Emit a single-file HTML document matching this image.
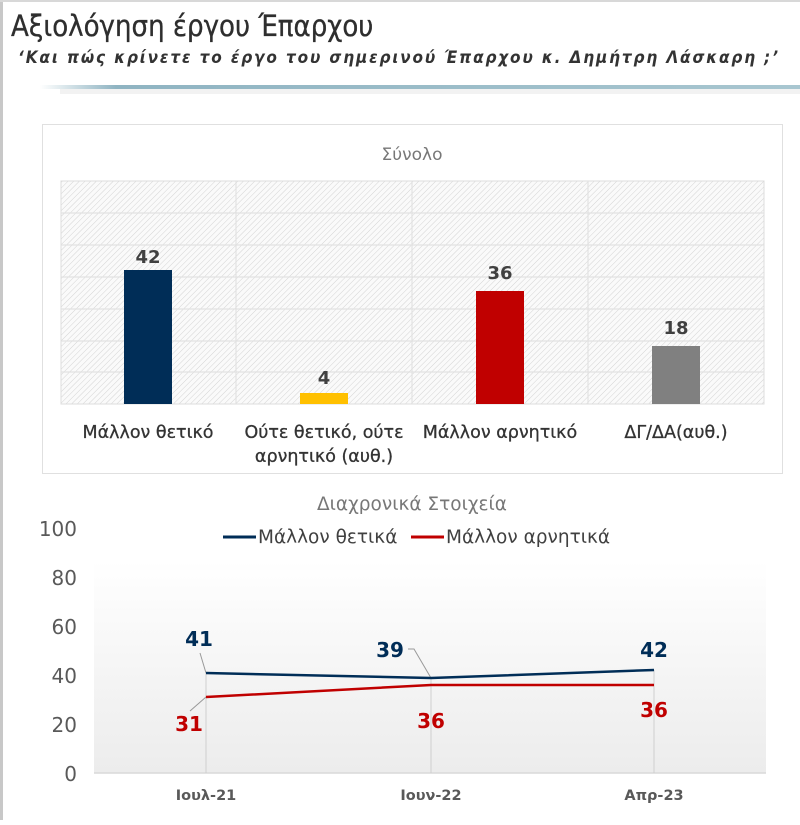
<!DOCTYPE html>
<html><head><meta charset="utf-8"><style>
body{margin:0;width:800px;height:820px;background:#fff;overflow:hidden;font-family:"Liberation Sans","DejaVu Sans",sans-serif;}
</style></head><body>
<svg width="800" height="820" xmlns="http://www.w3.org/2000/svg" font-family="'DejaVu Sans','Liberation Sans',sans-serif">
<defs>
<pattern id="h" width="4" height="4" patternUnits="userSpaceOnUse" patternTransform="rotate(45)">
<rect width="4" height="4" fill="#fafafa"/><line x1="0" y1="0" x2="0" y2="4" stroke="#d4d4d4" stroke-width="1"/></pattern>
<linearGradient id="bg" x1="0" y1="0" x2="0" y2="1"><stop offset="0" stop-color="#fff"/><stop offset="1" stop-color="#ececec"/></linearGradient>
<linearGradient id="ul" x1="0" y1="0" x2="1" y2="0"><stop offset="0" stop-color="#fff"/><stop offset="0.1" stop-color="#8fb4c2"/><stop offset="1" stop-color="#a8c6d0"/></linearGradient>
</defs>
<rect x="0" y="0" width="3" height="820" fill="#c8c8c8"/>
<rect x="0" y="0" width="800" height="2" fill="#d8d8d8"/>
<text x="11" y="36" font-size="29" fill="#2e2e2e" stroke="#2e2e2e" stroke-width="0.3" font-family="'DejaVu Sans Condensed','DejaVu Sans',sans-serif" style="font-stretch:condensed">Αξιολόγηση έργου Έπαρχου</text>
<text x="18" y="63" font-size="17" font-style="italic" font-weight="bold" fill="#333" textLength="760" lengthAdjust="spacing" font-family="'DejaVu Sans Condensed','DejaVu Sans',sans-serif">‘Και πώς κρίνετε το έργο του σημερινού Έπαρχου κ. Δημήτρη Λάσκαρη ;’</text>
<rect x="40" y="85" width="760" height="4" fill="url(#ul)"/>
<rect x="60" y="89" width="740" height="5" fill="#ececec" opacity="0.7"/>
<!-- bar box -->
<rect x="42.5" y="124.5" width="740" height="349" fill="#fff" stroke="#e0e0e0"/>
<text x="412" y="160" font-size="17" fill="#777" text-anchor="middle">Σύνολο</text>
<rect x="61" y="181" width="703" height="223" fill="url(#h)" stroke="#ddd"/>
<g stroke="#e2e2e2" stroke-width="1.2">
<line x1="61" y1="213" x2="764" y2="213"/><line x1="61" y1="245" x2="764" y2="245"/><line x1="61" y1="277" x2="764" y2="277"/><line x1="61" y1="309" x2="764" y2="309"/><line x1="61" y1="341" x2="764" y2="341"/><line x1="61" y1="372" x2="764" y2="372"/>
<line x1="236" y1="181" x2="236" y2="404"/><line x1="412" y1="181" x2="412" y2="404"/><line x1="588" y1="181" x2="588" y2="404"/>
</g>
<rect x="124" y="270" width="48" height="134" fill="#002d57"/>
<rect x="300" y="393" width="48" height="11" fill="#ffc000"/>
<rect x="476" y="291" width="48" height="113" fill="#c00000"/>
<rect x="652" y="346" width="48" height="58" fill="#808080"/>
<g font-size="18" font-weight="bold" fill="#404040" text-anchor="middle">
<text x="148" y="263">42</text><text x="324" y="384">4</text><text x="500" y="279">36</text><text x="676" y="334">18</text>
</g>
<g font-size="17.5" fill="#333" text-anchor="middle" stroke="#333" stroke-width="0.3">
<text x="148" y="438">Μάλλον θετικό</text>
<text x="324" y="438">Ούτε θετικό, ούτε</text><text x="324" y="462">αρνητικό (αυθ.)</text>
<text x="500" y="438">Μάλλον αρνητικό</text>
<text x="676" y="438">ΔΓ/ΔΑ(αυθ.)</text>
</g>
<!-- line chart -->
<text x="412" y="510" font-size="18.5" fill="#777" text-anchor="middle">Διαχρονικά Στοιχεία</text>
<line x1="223" y1="537" x2="256" y2="537" stroke="#002d57" stroke-width="3"/>
<text x="258" y="543" font-size="18.5" fill="#404040">Μάλλον θετικά</text>
<line x1="411" y1="537" x2="444" y2="537" stroke="#c00000" stroke-width="3"/>
<text x="446" y="543" font-size="18.5" fill="#404040">Μάλλον αρνητικά</text>
<rect x="94" y="560" width="672" height="213" fill="url(#bg)"/>
<line x1="94" y1="773" x2="766" y2="773" stroke="#d9d9d9" stroke-width="1.5"/>
<g font-size="20" fill="#595959" text-anchor="end">
<text x="77" y="536">100</text><text x="77" y="585">80</text><text x="77" y="634">60</text><text x="77" y="683">40</text><text x="77" y="732">20</text><text x="77" y="781">0</text>
</g>
<g stroke="#cfcfcf" stroke-width="1">
<line x1="206" y1="673" x2="206" y2="773"/><line x1="431" y1="678" x2="431" y2="773"/><line x1="654" y1="670" x2="654" y2="773"/>
</g>
<g stroke="#999" stroke-width="1" fill="none">
<polyline points="200,653 206,673"/><polyline points="190,711 206,697"/><polyline points="408,649 414,649 431,678"/>
</g>
<polyline points="206,697 431,685 654,685" fill="none" stroke="#c00000" stroke-width="2.5"/>
<polyline points="206,673 431,678 654,670" fill="none" stroke="#002d57" stroke-width="2.5"/>
<g font-size="20" font-weight="bold" text-anchor="middle">
<text x="199" y="646" fill="#002d57">41</text><text x="390" y="657" fill="#002d57">39</text><text x="654" y="657" fill="#002d57">42</text>
<text x="189" y="731" fill="#c00000">31</text><text x="431" y="728" fill="#c00000">36</text><text x="654" y="717" fill="#c00000">36</text>
</g>
<g font-size="14.5" font-weight="bold" fill="#595959" text-anchor="middle">
<text x="206" y="800">Ιουλ-21</text><text x="431" y="800">Ιουν-22</text><text x="654" y="800">Απρ-23</text>
</g>
</svg>
</body></html>
